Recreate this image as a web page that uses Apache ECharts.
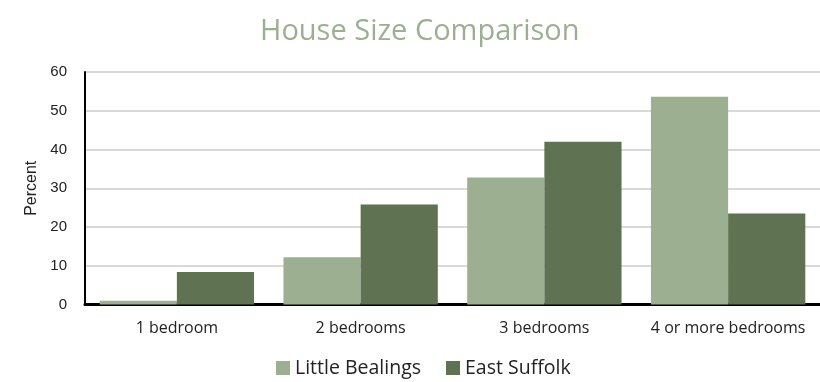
<!DOCTYPE html>
<html>
<head>
<meta charset="utf-8">
<script src="https://cdn.jsdelivr.net/npm/echarts@6/dist/echarts.min.js"></script>
<style>
  html, body { margin: 0; padding: 0; background: #fff; }
  #chart { width: 820px; height: 382px; }
</style>
</head>
<body>
<div id="chart"></div>
<script>
// House size shares (%) by number of bedrooms
const categories = ['1 bedroom', '2 bedrooms', '3 bedrooms', '4 or more bedrooms'];
const littleBealings = [1.0, 12.2, 32.8, 53.6];
const eastSuffolk = [8.4, 25.8, 42.0, 23.5];
const seriesNames = ['Little Bealings', 'East Suffolk'];
const yTicks = { min: 0, max: 60, interval: 10 };

const chart = echarts.init(document.getElementById('chart'), null, { renderer: 'canvas' });

chart.setOption({
  animation: false,
  backgroundColor: '#ffffff',
  title: {
    text: 'House Size Comparison',
    left: 255,
    top: 12,
    textStyle: {
      fontFamily: 'Open Sans',
      fontWeight: 'normal',
      fontSize: 29,
      color: '#9daf91'
    }
  },
  legend: {
    bottom: -1,
    left: 271,
    itemWidth: 14,
    itemHeight: 14,
    itemGap: 25,
    icon: 'rect',
    textStyle: { fontFamily: 'Open Sans', fontSize: 19.5, color: '#222' },
    data: seriesNames
  },
  grid: { left: 85, right: -2, top: 72, bottom: 77.5 },
  xAxis: {
    type: 'category',
    data: categories,
    axisLine: { lineStyle: { color: '#000', width: 3 } },
    axisTick: { show: false },
    axisLabel: {
      interval: 0,
      margin: 16,
      fontFamily: 'Open Sans',
      fontSize: 16,
      color: '#222'
    }
  },
  yAxis: {
    type: 'value',
    min: yTicks.min,
    max: yTicks.max,
    interval: yTicks.interval,
    name: 'Percent',
    nameLocation: 'middle',
    nameGap: 43,
    nameTextStyle: { fontFamily: 'Liberation Sans', fontSize: 16, color: '#222' },
    axisLine: { show: true, lineStyle: { color: '#000', width: 2 } },
    axisTick: { show: false },
    axisLabel: { margin: 18, fontFamily: 'Liberation Sans', fontSize: 15, color: '#222' },
    splitLine: { lineStyle: { color: '#d9d9d9', width: 2 } }
  },
  series: [
    {
      name: seriesNames[0],
      type: 'bar',
      data: littleBealings,
      barGap: '0%',
      barCategoryGap: '16%',
      itemStyle: { color: '#9daf91' }
    },
    {
      name: seriesNames[1],
      type: 'bar',
      data: eastSuffolk,
      barGap: '0%',
      barCategoryGap: '16%',
      itemStyle: { color: '#5f7353' }
    }
  ]
});
</script>
</body>
</html>
